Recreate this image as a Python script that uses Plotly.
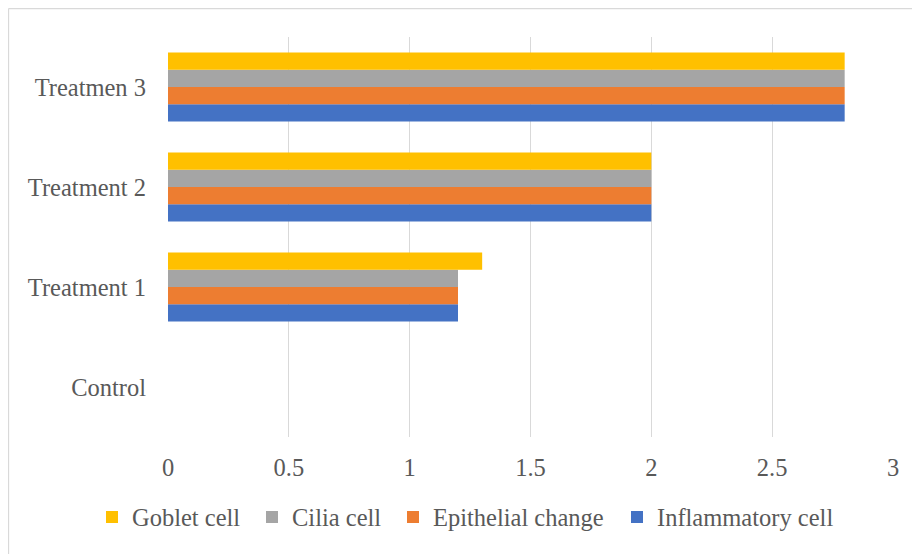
import plotly.graph_objects as go

categories = ["Control", "Treatment 1", "Treatment 2", "Treatmen 3"]
series_names = ["Inflammatory cell", "Epithelial change", "Cilia cell", "Goblet cell"]
inflammatory = [0, 1.2, 2.0, 2.8]
epithelial = [0, 1.2, 2.0, 2.8]
cilia = [0, 1.2, 2.0, 2.8]
goblet = [0, 1.3, 2.0, 2.8]
x_ticks = [0, 0.5, 1, 1.5, 2, 2.5, 3]

values = [inflammatory, epithelial, cilia, goblet]
colors = ["#4472C4", "#ED7D31", "#A5A5A5", "#FFC000"]

# page has an 8px body margin, so figure is 912x546
W, H = 912, 546
ml, mr, mt, mb = 160, 27, 29, 117
pw, ph = W - ml - mr, H - mt - mb

font = dict(family="Liberation Serif, Times New Roman, serif", size=24.5, color="#595959")

# one legend per series so each entry sits where the reference puts it
legend_ids = ["legend4", "legend3", "legend2", "legend"]
legend_x_px = [617, 393, 252, 92]  # page x of each legend box (Inflammatory..Goblet)

fig = go.Figure()
for name, vals, col, lid in zip(series_names, values, colors, legend_ids):
    fig.add_trace(go.Bar(
        y=categories, x=vals, name=name, orientation="h",
        marker=dict(color=col, line=dict(width=0)),
        legend=lid,
    ))

legend_layout = {}
for lid, px in zip(legend_ids, legend_x_px):
    legend_layout[lid] = dict(
        orientation="h", x=(px - 8 - ml) / pw, xanchor="left",
        y=-80 / ph, yanchor="middle", font=font, itemwidth=30,
        bgcolor="rgba(0,0,0,0)",
    )

fig.update_layout(
    width=W, height=H,
    margin=dict(l=ml, r=mr, t=mt, b=mb, autoexpand=False),
    barmode="group", bargap=0.31, bargroupgap=0,
    plot_bgcolor="white", paper_bgcolor="white",
    font=font,
    showlegend=True,
    xaxis=dict(range=[0, 3], tickvals=x_ticks, ticktext=[str(v) for v in x_ticks],
               showgrid=True, gridcolor="#D9D9D9", gridwidth=1.3, zeroline=False,
               showline=False, ticks="", ticklabelstandoff=13),
    yaxis=dict(showgrid=False, zeroline=False, showline=False, ticks="",
               ticklabelstandoff=21),
    shapes=[
        dict(type="line", xref="paper", yref="paper",
             x0=(0.5 - ml) / pw, x1=(W - ml) / pw,
             y0=(H - mb - 0.5) / ph, y1=(H - mb - 0.5) / ph,
             line=dict(color="#D9D9D9", width=1.3)),
        dict(type="line", xref="paper", yref="paper",
             x0=(0.5 - ml) / pw, x1=(0.5 - ml) / pw,
             y0=(H - mb - 0.5) / ph, y1=-mb / ph,
             line=dict(color="#D9D9D9", width=1.3)),
    ],
    **legend_layout,
)

fig.write_html("out.html")
